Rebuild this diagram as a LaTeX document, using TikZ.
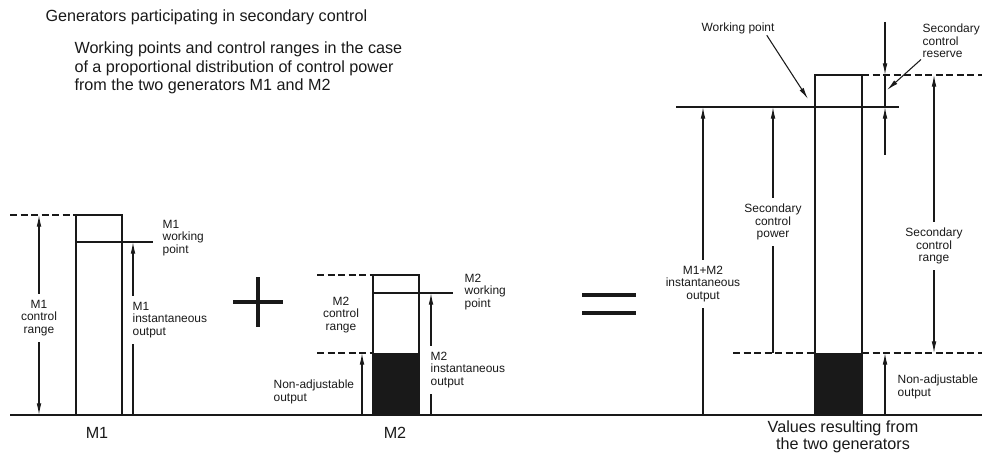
\documentclass[tikz,border=0pt]{standalone}
\usepackage{fontspec}
\setmainfont{Liberation Sans}
\usepackage{tikz}
\usetikzlibrary{arrows.meta,positioning}
\definecolor{inkdark}{RGB}{25,25,25}

\begin{document}
\begin{tikzpicture}[x=0.03cm,y=-0.03cm,>={Latex[length=10pt,width=4pt]},line width=0.9pt,draw=inkdark,
  lbl/.style={font=\fontsize{10.2}{10.6}\selectfont,text=inkdark,inner sep=1pt,align=left},
  gaplbl/.style={lbl,fill=white,inner xsep=1pt,inner ysep=5pt},
  bigtxt/.style={font=\fontsize{13.8}{16}\selectfont,text=inkdark,inner sep=0pt,align=left},
  dashln/.style={dash pattern=on 6pt off 3pt},
  signbar/.style={line width=3pt}]
\useasboundingbox (0,0) rectangle (982,455);
\node[bigtxt,anchor=west] (title) at (45,17) {Generators participating in secondary control};
\node[bigtxt,anchor=west] (sub) at (74,68) {Working points and control ranges in the case\\of a proportional distribution of control power\\from the two generators M1 and M2};
\draw (10,415) -- (982,415);
\coordinate (m1top) at (39,215);
\coordinate (m1bot) at (39,415);
\coordinate (m1wp) at (133,242);
\coordinate (m1ws) at (133,415);
\draw (76,415) rectangle (122,215);
\draw[dashln] (10,215) -- (76,215);
\draw (76,242) -- (153,242);
\draw[<->] (m1top) -- (m1bot);
\draw[->] (m1ws) -- (m1wp);
\node[gaplbl,align=center] (m1rng) at (39,318) {M1\\control\\range};
\node[gaplbl,anchor=west] (m1inst) at (131,320) {M1\\instantaneous\\output};
\node[lbl,anchor=west] (m1wpl) at (161,238) {M1\\working\\point};
\node[bigtxt] (m1name) at (97,433) {M1};
\draw[signbar] (233,302) -- (283,302) (258,277) -- (258,327);
\coordinate (m2na) at (362,353);
\coordinate (m2ns) at (362,415);
\coordinate (m2wp) at (431,293);
\coordinate (m2ws) at (431,415);
\fill[inkdark] (373,415) rectangle (419,353);
\draw (373,415) rectangle (419,275);
\draw[dashln] (317,275) -- (373,275) (317,353) -- (373,353);
\draw (373,293) -- (453,293);
\draw[->] (m2ns) -- (m2na);
\draw[->] (m2ws) -- (m2wp);
\node[lbl,align=center] (m2rng) at (341,315) {M2\\control\\range};
\node[lbl,anchor=west] (m2nal) at (272,392) {Non-adjustable\\output};
\node[gaplbl,anchor=west] (m2inst) at (429,370) {M2\\instantaneous\\output};
\node[lbl,anchor=west] (m2wpl) at (463,292) {M2\\working\\point};
\node[bigtxt] (m2name) at (395,433) {M2};
\draw[signbar] (582,295) -- (636,295) (582,313) -- (636,313);
\coordinate (sumwp) at (703,107);
\coordinate (sums) at (703,415);
\coordinate (scpt) at (773,107);
\coordinate (scpb) at (773,353);
\coordinate (scrt) at (934,75);
\coordinate (scrb) at (934,353);
\coordinate (rsvt) at (885,22);
\coordinate (rsvu) at (885,75);
\coordinate (rsvd) at (885,107);
\coordinate (rsvb) at (885,155);
\coordinate (rsvtip) at (887,90);
\coordinate (wptip) at (808,99);
\coordinate (nat) at (885,353);
\coordinate (nas) at (885,415);
\fill[inkdark] (815,415) rectangle (862,353);
\draw (815,415) rectangle (862,75);
\draw (676,107) -- (899,107);
\draw[dashln] (862,75) -- (982,75);
\draw[dashln] (733,353) -- (815,353) (862,353) -- (982,353);
\draw[->] (sums) -- (sumwp);
\draw[->] (scpb) -- (scpt);
\draw[<->] (scrt) -- (scrb);
\draw[->] (rsvt) -- (rsvu);
\draw (rsvu) -- (rsvd);
\draw[->] (rsvb) -- (rsvd);
\draw[->] (nas) -- (nat);
\node[gaplbl,align=center] (suml) at (703,284) {M1+M2\\instantaneous\\output};
\node[gaplbl,align=center] (scpl) at (773,222) {Secondary\\control\\power};
\node[gaplbl,align=center] (scrl) at (934,246) {Secondary\\control\\range};
\node[lbl,anchor=west] (rsvl) at (921,41) {Secondary\\control\\reserve};
\node[lbl] (wpl) at (738,28) {Working point};
\node[lbl,anchor=west] (nal) at (896,387) {Non-adjustable\\output};
\node[bigtxt,align=center,font=\fontsize{13.8}{14}\selectfont] (resl) at (843,437) {Values resulting from\\the two generators};
\draw[->] (rsvl.south west) -- (rsvtip);
\draw[->] ([xshift=-8pt]wpl.south east) -- (wptip);
\end{tikzpicture}
\end{document}
